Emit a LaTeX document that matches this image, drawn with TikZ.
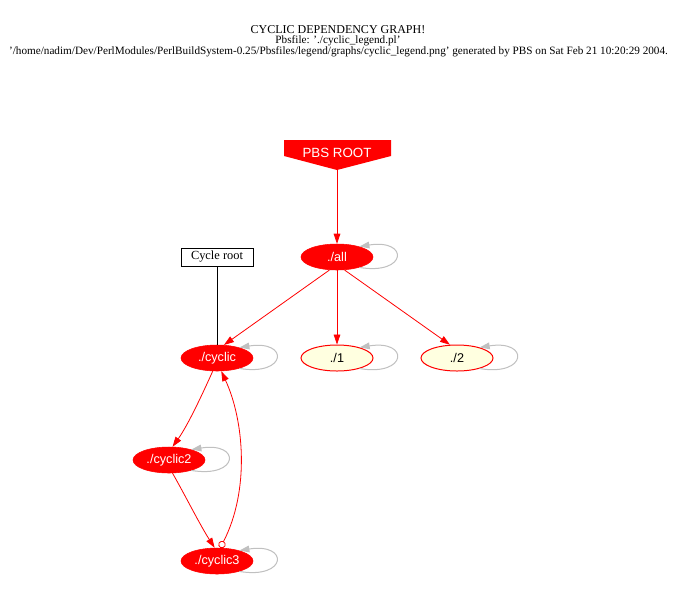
\documentclass[tikz,border=0pt]{standalone}
\usepackage{fontspec}
\setmainfont{Liberation Serif}
\newfontfamily\sansf{Liberation Sans}
\usetikzlibrary{shapes.geometric,arrows.meta,calc}
\definecolor{loopgray}{RGB}{192,192,192}
\definecolor{lightyel}{RGB}{255,255,224}
\tikzset{
  rednode/.style={ellipse,fill=red,draw=red,minimum width=54pt,minimum height=19.5pt,inner sep=0pt,text=white,font=\sansf\fontsize{9.5}{11}\selectfont},
  yelnode/.style={ellipse,fill=lightyel,draw=red,line width=0.75pt,minimum width=54pt,minimum height=19.5pt,inner sep=0pt,text=black,font=\sansf\fontsize{9.5}{11}\selectfont},
  redge/.style={draw=red,line width=0.6pt,-{Triangle[length=7.5pt,width=5pt]}},
  selfloop/.style={draw=loopgray,line width=0.75pt,-{Triangle[length=7.5pt,width=5pt]}},
  titletext/.style={font=\fontsize{8.4}{10}\selectfont,inner sep=0pt}
}
\begin{document}
\begin{tikzpicture}[x=0.75pt,y=-0.75pt]
\useasboundingbox[fill=white] (0,0) rectangle (673,593);
% title
\node[titletext,font=\fontsize{9}{10}\selectfont] (t1) at (338,29.5) {CYCLIC DEPENDENCY GRAPH!};
\node[titletext] (t2) at (338,40.5) {Pbsfile: './cyclic\_legend.pl'};
\node[titletext] (t3) at (338.5,51.5) {'/home/nadim/Dev/PerlModules/PerlBuildSystem-0.25/Pbsfiles/legend/graphs/cyclic\_legend.png' generated by PBS on Sat Feb 21 10:20:29 2004.};
% root (invhouse)
\fill[red] (284,140) coordinate (r1) -- (391,140) -- (391,156) -- (337,170) coordinate (rtip) -- (284,156) -- cycle;
\node[text=white,font=\sansf\fontsize{10}{12}\selectfont,inner sep=0pt] (root) at (337,153) {PBS ROOT};
% nodes
\node[rednode] (all) at (337,257) {./all};
\node[rednode] (cyc) at (217,358) {./cyclic};
\node[rednode] (cyc2) at (169,460) {./cyclic2};
\node[rednode] (cyc3) at (217,561) {./cyclic3};
\node[yelnode] (n1) at (337,358) {./1};
\node[yelnode] (n2) at (457,358) {./2};
\node[draw=black,line width=0.75pt,minimum width=54pt,minimum height=13.5pt,inner sep=0pt,font=\fontsize{9.3}{10}\selectfont] (cr) at (217,257) {Cycle root};
% edges
\draw[black,line width=0.75pt] (cr.south) -- (cyc.north);
\draw[redge] (rtip) -- (all.north);
\draw[redge] (all.-120) -- (cyc.62);
\draw[redge] (all.south) -- (n1.north);
\draw[redge] (all.-60) -- (n2.118);
\draw[redge] (cyc.-108) .. controls (202,395) and (188,425) .. (cyc2.75);
\draw[redge] (cyc2.-75) .. controls (185,495) and (200,525) .. (cyc3.100);
\draw[draw=red,line width=0.6pt,{Circle[open,length=5.5pt,fill=white]}-{Triangle[length=7.5pt,width=5pt]}] (cyc3.76) .. controls (250,490) and (244,420) .. (cyc.-72);
% self loops
\foreach \n in {all,cyc,cyc2,cyc3,n1,n2}{
  \draw[selfloop] (\n.-25) .. controls +(48,8) and +(50,-8) .. (\n.25);
}
\end{tikzpicture}
\end{document}
